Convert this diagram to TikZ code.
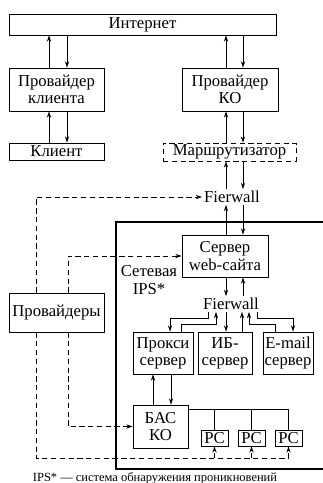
\documentclass[tikz,border=0pt]{standalone}
\usepackage{fontspec}
\setmainfont{Liberation Serif}
\usetikzlibrary{arrows.meta}
\tikzset{
  box/.style={draw, line width=0.5pt, align=center, inner sep=0pt, font=\fontsize{9.5}{9.8}\selectfont},
  lbl/.style={inner sep=1pt, align=center, font=\fontsize{9.5}{9.8}\selectfont},
  arr/.style={-{Stealth[length=3.5pt,width=2.4pt]}, line width=0.45pt},
  dsh/.style={line width=0.45pt, dash pattern=on 3pt off 2pt}
}

\begin{document}
\begin{tikzpicture}[x=0.02cm, y=-0.02cm]
\useasboundingbox (0,0) rectangle (323,483);
% upper part
\node[box, minimum width=5.34cm, minimum height=0.42cm] (inet) at (142.5,24.5) {Интернет};
\node[box, minimum width=1.90cm, minimum height=0.86cm] (pcl) at (56.5,89.5) {Провайдер\\клиента};
\node[box, minimum width=1.92cm, minimum height=0.86cm] (pko) at (230,89.5) {Провайдер\\КО};
\node[box, minimum width=1.90cm, minimum height=0.34cm] (client) at (56.5,151.5) {Клиент};
\node[box, dsh, minimum width=2.66cm, minimum height=0.36cm] (router) at (229.5,152) {Маршрутизатор};
\node[lbl] (fwa) at (232,197) {Fierwall};
\draw[arr] (pcl.north -| 49,0) -- (inet.south -| 49,0);
\draw[arr] (inet.south -| 67,0) -- (pcl.north -| 67,0);
\draw[arr] (client.north -| 49,0) -- (pcl.south -| 49,0);
\draw[arr] (pcl.south -| 67,0) -- (client.north -| 67,0);
\draw[arr] (pko.north -| 226,0) -- (inet.south -| 226,0);
\draw[arr] (inet.south -| 243,0) -- (pko.north -| 243,0);
\draw[arr] (router.north -| 226,0) -- (pko.south -| 226,0);
\draw[arr] (pko.south -| 243,0) -- (router.north -| 243,0);
\draw[arr] (fwa.north -| 226,0) -- (router.south -| 226,0);
\draw[arr] (router.south -| 243,0) -- (fwa.north -| 243,0);

% protected network
\draw[line width=1.1pt] (323,222) -- (116,222) -- (116,469) -- (323,469);
\node[box, minimum width=1.72cm, minimum height=0.84cm] (web) at (225,256) {Сервер\\web-сайта};
\node[lbl] (ips) at (149,280) {Сетевая\\IPS*};
\node[lbl] (fwb) at (231,304) {Fierwall};
\node[box, minimum width=1.20cm, minimum height=0.84cm] (proxy) at (163,353) {Прокси\\сервер};
\node[box, minimum width=1.08cm, minimum height=0.84cm] (ib) at (225,353) {ИБ-\\сервер};
\node[box, minimum width=1.00cm, minimum height=0.84cm] (email) at (288,353) {E-mail\\сервер};
\node[box, minimum width=1.10cm, minimum height=0.86cm] (bas) at (160.5,426.5) {БАС\\КО};
\node[box, minimum width=0.54cm, minimum height=0.32cm] (pc1) at (214.5,438) {PC};
\node[box, minimum width=0.54cm, minimum height=0.32cm] (pc2) at (251.5,438) {PC};
\node[box, minimum width=0.54cm, minimum height=0.32cm] (pc3) at (288.5,438) {PC};
\draw[arr] (web.north -| 226,0) -- (fwa.south -| 226,0);
\draw[arr] (fwa.south -| 243,0) -- (web.north -| 243,0);
\draw[arr] (web.south -| 226,0) -- (fwb.north -| 226,0);
\draw[arr] (fwb.north -| 243,0) -- (web.south -| 243,0);
\draw[arr] (fwb.south -| 208,0) -- (208,318) -| (proxy.north -| 170,0);
\draw[arr] (proxy.north -| 181,0) -- (181,324) -| (fwb.south -| 216,0);
\draw[arr] (fwb.south -| 226,0) -- (ib.north -| 226,0);
\draw[arr] (ib.north -| 242,0) -- (fwb.south -| 242,0);
\draw[arr] (email.north -| 275,0) -- (275,324) -| (fwb.south -| 249,0);
\draw[arr] (fwb.south -| 257,0) -- (257,318) -| (email.north -| 293,0);
\draw[arr] (bas.north -| 153,0) -- (proxy.south -| 153,0);
\draw[arr] (proxy.south -| 171,0) -- (bas.north -| 171,0);
\draw[line width=0.45pt] (bas.east |- 0,409) -| (pc3.north);
\draw[line width=0.45pt] (pc1.north) -- (pc1.north |- 0,409);
\draw[line width=0.45pt] (pc2.north) -- (pc2.north |- 0,409);

% providers
\node[box, minimum width=1.90cm, minimum height=0.78cm] (prov) at (56.5,312.5) {Провайдеры};
\draw[arr, dsh] (prov.north -| 36,0) |- (fwa.west);
\draw[arr, dsh] (prov.north -| 68,0) |- (web.west);
\draw[arr, dsh] (prov.south -| 68,0) |- (bas.west);
\draw[dsh] (prov.south -| 36,0) |- (pc3.south |- 0,458);
\draw[arr, dsh] (pc1.south |- 0,458) -- (pc1.south);
\draw[arr, dsh] (pc2.south |- 0,458) -- (pc2.south);
\draw[arr, dsh] (pc3.south |- 0,458) -- (pc3.south);

\node[inner sep=0pt, font=\fontsize{7.1}{8}\selectfont] (note) at (155,478) {IPS* — система обнаружения проникновений};
\end{tikzpicture}
\end{document}
